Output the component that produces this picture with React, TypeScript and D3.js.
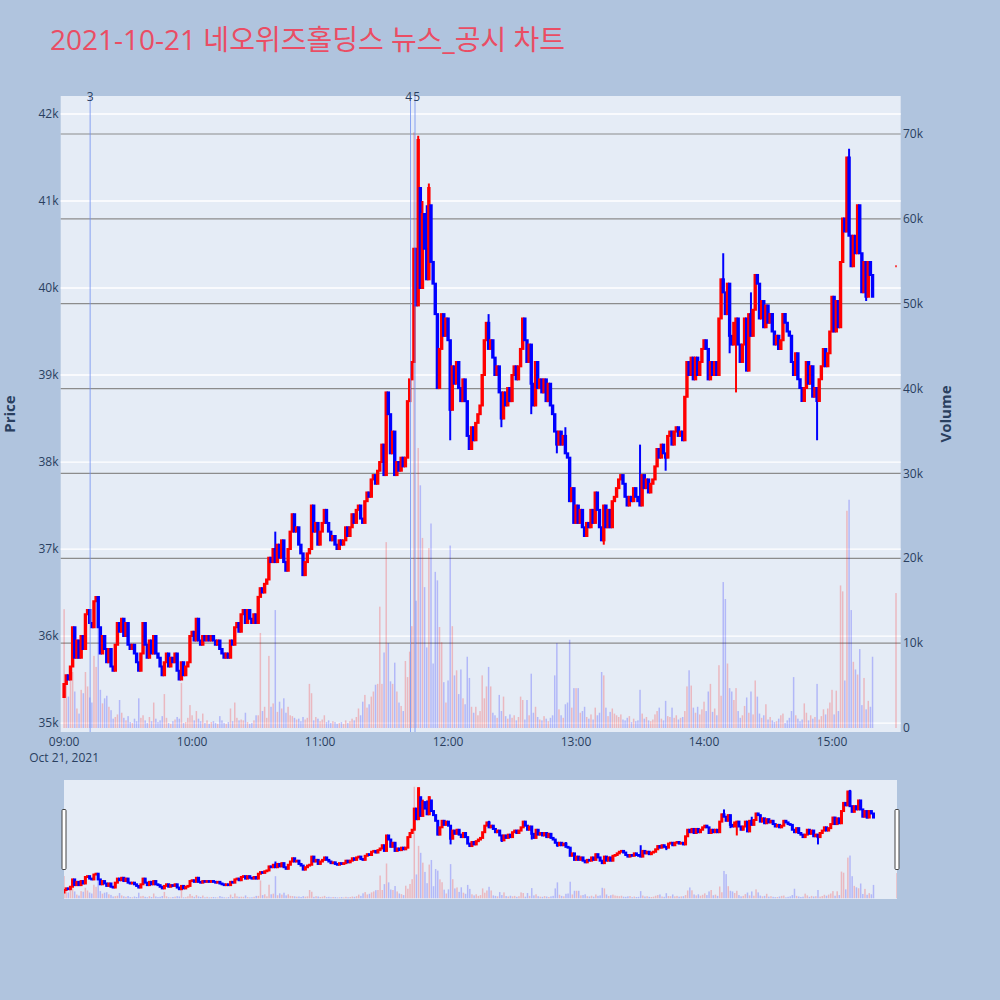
import { useMemo } from 'react';
import * as d3 from 'd3';

// 1-minute candles from 09:00, open = previous close unless overridden
const FIRST_OPEN = 35300;

const closes: number[] = [
  35450, 35550, 35500, 35650, 36100, 35750, 35950, 35750, 36000, 35850,
  36250, 36300, 36150, 36100, 36400, 36450, 36100, 35800, 36000, 35850,
  35700, 35850, 35650, 35600, 35900, 36150, 36050, 36200, 36000, 36150,
  35900, 35850, 35900, 35800, 35700, 35600, 35800, 36150, 35900, 35750,
  35950, 35800, 36000, 35800, 35750, 35650, 35550, 35700, 35800, 35650,
  35750, 35700, 35800, 35600, 35500, 35700, 35550, 35650, 35700, 36000,
  36050, 35950, 36200, 35950, 35900, 36000, 35950, 36000, 35950, 36000,
  35950, 35900, 35950, 35850, 35800, 35750, 35800, 35750, 35950, 35900,
  36100, 36150, 36050, 36250, 36300, 36150, 36300, 36200, 36150, 36250,
  36150, 36450, 36550, 36500, 36600, 36650, 36900, 36850, 37000, 36850,
  37050, 36900, 37100, 36850, 36750, 37000, 37200, 37400, 37200, 37250,
  37050, 36950, 36700, 36850, 36950, 37000, 37500, 37200, 37300, 37050,
  37200, 37300, 37450, 37300, 37200, 37100, 37150, 37050, 37000, 37100,
  37050, 37100, 37250, 37150, 37250, 37400, 37300, 37450, 37500, 37350,
  37300, 37550, 37650, 37600, 37800, 37850, 37750, 37900, 38000, 38200,
  37850, 38800, 38550, 38100, 38350, 37850, 38000, 37900, 38050, 37950,
  38050, 38700, 38950, 39150, 40450, 39800, 41700, 40000, 40850, 40450,
  40100, 41150, 40300, 40050, 39700, 38850, 39300, 39700, 39450, 39650,
  39400, 38600, 39100, 38900, 39150, 38850, 38700, 38950, 38700, 38300,
  38150, 38400, 38250, 38450, 38550, 38650, 39000, 39400, 39600, 39300,
  39400, 39200, 39000, 39100, 38800, 38500, 38800, 38650, 38850, 38700,
  39000, 39100, 38950, 39100, 39300, 39650, 39400, 39150, 39350, 38900,
  38650, 39150, 38850, 38950, 38800, 38950, 38700, 38900, 38650, 38550,
  38350, 38200, 38350, 38200, 38300, 38100, 38050, 37550, 37700, 37300,
  37500, 37300, 37450, 37250, 37150, 37300, 37250, 37450, 37300, 37650,
  37450, 37250, 37100, 37500, 37250, 37450, 37250, 37550, 37600, 37700,
  37800, 37850, 37750, 37600, 37500, 37600, 37550, 37700, 37600, 37550,
  37500, 37850, 37700, 37800, 37650, 37750, 37800, 37950, 38150, 38050,
  38200, 38100, 38050, 38300, 38350, 38200, 38350, 38400, 38300, 38350,
  38250, 38750, 39150, 39000, 39200, 38950, 39200, 39000, 39150, 39300,
  39400, 39300, 38950, 39150, 39000, 39150, 39000, 39650, 40100, 39950,
  39700, 40050, 39450, 39350, 39600, 39650, 39350, 39150, 39350, 39650,
  39050, 39700, 39450, 39750, 40150, 40050, 39650, 39850, 39550, 39800,
  39600, 39700, 39500, 39350, 39450, 39300, 39400, 39700, 39600, 39500,
  39450, 39150, 39000, 39250, 38950, 38850, 38700, 38850, 39150, 38900,
  39100, 38750, 38850, 38700, 38950, 39100, 39300, 39100, 39250, 39500,
  39900, 39500, 39850, 39550, 40300, 40800, 40650, 41500, 40600, 40250,
  40600, 40400, 40950, 40400, 39950, 40300, 39900, 40300, 40150, 39900,
];

const volumes: number[] = [
  14000, 5300, 3700, 6200, 6600, 4300, 2300, 1700, 4500, 4100,
  6600, 4900, 3600, 3000, 8500, 7200, 13000, 4500, 2900, 3500,
  3800, 2500, 2100, 1100, 1300, 1600, 3300, 1800, 1200, 900,
  1400, 700, 600, 1100, 800, 3500, 1200, 1500, 900, 600,
  1300, 800, 3000, 1100, 700, 900, 1400, 4000, 1200, 600,
  500, 800, 1000, 1300, 1100, 5300, 600, 700, 1200, 2700,
  1500, 900, 2000, 1100, 800, 1700, 600, 900, 500, 700,
  800, 600, 500, 1400, 900, 600, 500, 700, 2300, 800,
  3000, 1200, 900, 1000, 900, 1800, 700, 500, 600, 900,
  1500, 1500, 11200, 2000, 2500, 1200, 8500, 2500, 2900, 13900,
  1900, 3100, 2300, 3500, 1800, 2500, 1500, 1400, 1200, 1000,
  1100, 800, 1300, 1000, 1200, 5200, 4100, 900, 1300, 1100,
  800, 1000, 1500, 700, 900, 600, 800, 700, 500, 600,
  700, 500, 900, 600, 800, 1100, 900, 1300, 2300, 1500,
  3100, 3900, 2400, 2800, 3700, 4300, 5100, 5200, 14300, 5200,
  8900, 21900, 10000, 5500, 5200, 7700, 4300, 3000, 2600, 2000,
  7900, 6000, 9000, 12000, 70200, 15000, 33000, 28600, 22400, 16600,
  9500, 21200, 24100, 7600, 18400, 17400, 11900, 10100, 5400, 3000,
  5600, 21500, 12000, 6200, 6800, 4000, 6900, 3500, 2800, 8400,
  5900, 2500, 1800, 2500, 1500, 2000, 6200, 3500, 4900, 7200,
  4900, 1800, 1500, 1200, 3900, 2000, 3700, 1400, 1100, 1600,
  1200, 1500, 900, 1300, 3700, 3300, 1000, 3300, 1500, 6400,
  1800, 2500, 1300, 1000, 900, 1400, 1100, 800, 1200, 1500,
  6200, 10000, 2200, 1500, 1200, 2800, 3000, 10400, 2400, 4700,
  4700, 4700, 1800, 2000, 2500, 1300, 1100, 1600, 1000, 2400,
  1500, 1800, 6600, 6200, 2400, 1400, 1900, 2300, 1700, 1500,
  1300, 1600, 1000, 900, 1200, 1400, 700, 1100, 800, 900,
  4500, 1700, 1100, 1300, 900, 800, 1000, 1600, 2000, 2400,
  1100, 900, 3200, 1400, 1300, 2400, 1200, 1500, 1000, 1200,
  1300, 2000, 4900, 6800, 5000, 2400, 1800, 2500, 1600, 2200,
  3100, 2000, 4300, 5200, 1900, 2300, 1500, 7400, 3800, 17200,
  15200, 7600, 4700, 4300, 3300, 4700, 2000, 1200, 1500, 2600,
  3600, 1800, 4300, 1600, 5600, 3700, 1700, 1200, 1500, 2800,
  1000, 1300, 900, 700, 800, 1100, 1500, 1700, 600, 900,
  1200, 2000, 6000, 1500, 1100, 800, 1000, 2900, 1800, 900,
  1500, 1100, 1300, 5200, 1000, 1400, 2200, 1600, 2300, 3000,
  4500, 1600, 4400, 2000, 16800, 16100, 5600, 25600, 26900, 13900,
  7800, 6900, 6300, 9300, 2700, 5900, 2200, 3200, 2500, 8400,
];

// [minute index, open] where the open gaps away from the previous close
const openOverrides: [number, number][] = [[167, 41150], [172, 40950]];
// [minute index, high] and [minute index, low] for visible wicks
const highWicks: [number, number][] = [
  [99, 37200], [166, 41750], [168, 41000], [170, 40950], [171, 41200],
  [199, 39700], [235, 38400], [270, 38200], [309, 40400], [322, 39950], [368, 41600],
];
const lowWicks: [number, number][] = [
  [181, 38250], [205, 38400], [219, 38550], [231, 38100], [253, 37050],
  [282, 37900], [312, 39250], [315, 38800], [353, 38250], [376, 39850],
];

// closing auction at 15:30
const closeAuction = { minute: 390, price: 40250, volume: 15900 };

const newsLabels = ['3', '4', '5'];
const newsMinutes = [12.2, 162.4, 164.5];

const priceTicks = [35000, 36000, 37000, 38000, 39000, 40000, 41000, 42000];
const volumeTicks = [0, 10000, 20000, 30000, 40000, 50000, 60000, 70000];

const TITLE = '2021-10-21 네오위즈홀딩스 뉴스_공시 차트';
const FONT = "'Open Sans', 'Noto Sans CJK KR', verdana, arial, sans-serif";
const UP = '#ff0000';
const DOWN = '#0000ff';

interface Candle {
  t: Date;
  o: number;
  h: number;
  l: number;
  c: number;
  v: number;
}

const t0 = new Date(2021, 9, 21, 9, 0, 0);
const atMinute = (m: number) => new Date(t0.getTime() + m * 60000);

function buildCandles(): Candle[] {
  const opens = new Map(openOverrides);
  const highs = new Map(highWicks);
  const lows = new Map(lowWicks);
  const out: Candle[] = closes.map((c, i) => {
    const o = opens.get(i) ?? (i === 0 ? FIRST_OPEN : closes[i - 1]);
    return {
      t: atMinute(i),
      o,
      c,
      h: Math.max(o, c, highs.get(i) ?? 0),
      l: Math.min(o, c, lows.get(i) ?? Infinity),
      v: volumes[i],
    };
  });
  out.push({
    t: atMinute(closeAuction.minute),
    o: closeAuction.price,
    c: closeAuction.price,
    h: closeAuction.price,
    l: closeAuction.price,
    v: closeAuction.volume,
  });
  return out;
}

function Series({
  data,
  x,
  yP,
  yV,
  barW,
  bodyW,
}: {
  data: Candle[];
  x: d3.ScaleTime<number, number>;
  yP: d3.ScaleLinear<number, number>;
  yV: d3.ScaleLinear<number, number>;
  barW: number;
  bodyW: number;
}) {
  return (
    <g>
      {data.map((d, i) => (
        <rect
          key={'v' + i}
          x={x(d.t) - barW / 2}
          y={yV(d.v)}
          width={barW}
          height={Math.max(0, yV(0) - yV(d.v))}
          fill={d.c >= d.o ? UP : DOWN}
          fillOpacity={0.22}
        />
      ))}
      {data.map((d, i) => {
        const cx = x(d.t);
        const col = d.c >= d.o ? UP : DOWN;
        const top = yP(Math.max(d.o, d.c));
        const bot = yP(Math.min(d.o, d.c));
        const hw = bodyW / 2;
        return (
          <g key={'c' + i} stroke={col} strokeWidth={2} fill={col}>
            <line x1={cx} x2={cx} y1={yP(d.h)} y2={yP(d.l)} />
            <path d={`M${cx - hw},${top}H${cx + hw}V${bot}H${cx - hw}Z`} />
          </g>
        );
      })}
    </g>
  );
}

export default function App() {
  const candles = useMemo(buildCandles, []);

  const L = 60.7, R = 900.7, T = 96, B = 732;
  const x = d3.scaleTime().domain([atMinute(-1.6), atMinute(392.2)]).range([L, R]);
  const yPrice = d3.scaleLinear().domain([34897, 42207]).range([B, T]);
  const yVol = d3.scaleLinear().domain([-471, 74475]).range([B, T]);

  const SL = 64, SR = 897, ST = 780, SB = 899;
  const xs = d3.scaleTime().domain([atMinute(0), atMinute(390)]).range([SL, SR]);
  const ysPrice = yPrice.copy().range([SB, ST]);
  const ysVol = yVol.copy().range([SB, ST]);

  const hourTicks = x.ticks(d3.timeHour.every(1)!);
  const fmt = d3.timeFormat('%H:%M');
  const tickColor = '#2a3f5f';

  // nudge the two close news labels apart so "4" and "5" sit side by side
  const labelShift = [0, -1.8, 1.8];

  return (
    <svg
      width={1000}
      height={1000}
      style={{ position: 'absolute', left: 0, top: 0 }}
      fontFamily={FONT}
    >
      <defs>
        <clipPath id="plotClip">
          <rect x={L} y={T} width={R - L} height={B - T} />
        </clipPath>
        <clipPath id="sliderClip">
          <rect x={SL} y={ST} width={SR - SL} height={SB - ST} />
        </clipPath>
      </defs>
      <rect width={1000} height={1000} fill="#b0c4de" />

      <text x={50} y={50} fontSize={28} fill="#ea4d64">
        {TITLE}
      </text>

      {/* main plot */}
      <rect x={L} y={T} width={R - L} height={B - T} fill="#e5ecf6" />
      {priceTicks.map((p) => (
        <line key={'pg' + p} x1={L} x2={R} y1={yPrice(p)} y2={yPrice(p)} stroke="#ffffff" strokeWidth={1.3} />
      ))}
      {volumeTicks.slice(1).map((v) => (
        <line key={'vg' + v} x1={L} x2={R} y1={yVol(v)} y2={yVol(v)} stroke="#8c8c8c" strokeWidth={1.2} />
      ))}
      <g clipPath="url(#plotClip)">
        <Series data={candles} x={x} yP={yPrice} yV={yVol} barW={1.5} bodyW={1.4} />
        {newsMinutes.map((m, i) => (
          <line
            key={'n' + i}
            x1={x(atMinute(m))}
            x2={x(atMinute(m))}
            y1={T}
            y2={B}
            stroke="#6f8ff0"
            strokeOpacity={0.8}
            strokeWidth={1}
          />
        ))}
      </g>
      {newsMinutes.map((m, i) => (
        <text
          key={'nl' + i}
          x={x(atMinute(m)) + labelShift[i]}
          y={101}
          fontSize={12}
          fill={tickColor}
          textAnchor="middle"
        >
          {newsLabels[i]}
        </text>
      ))}

      {/* axes */}
      {priceTicks.map((p) => (
        <text key={'pt' + p} x={58.5} y={yPrice(p)} dy="0.35em" fontSize={12} fill={tickColor} textAnchor="end">
          {p / 1000 + 'k'}
        </text>
      ))}
      {volumeTicks.map((v) => (
        <text key={'vt' + v} x={903} y={yVol(v)} dy="0.35em" fontSize={12} fill={tickColor}>
          {v === 0 ? '0' : v / 1000 + 'k'}
        </text>
      ))}
      {hourTicks.map((t, i) => (
        <g key={'xt' + i}>
          <text x={x(t)} y={746} fontSize={12} fill={tickColor} textAnchor="middle">
            {fmt(t)}
          </text>
          {i === 0 && (
            <text x={x(t)} y={762} fontSize={12} fill={tickColor} textAnchor="middle">
              Oct 21, 2021
            </text>
          )}
        </g>
      ))}
      <text
        transform={`translate(15,${(T + B) / 2}) rotate(-90)`}
        textAnchor="middle"
        fontSize={15}
        fontWeight="bold"
        fill={tickColor}
      >
        Price
      </text>
      <text
        transform={`translate(951,${(T + B) / 2}) rotate(-90)`}
        textAnchor="middle"
        fontSize={15}
        fontWeight="bold"
        fill={tickColor}
      >
        Volume
      </text>

      {/* range slider */}
      <rect x={SL} y={ST} width={SR - SL} height={SB - ST} fill="#e5ecf6" />
      <g clipPath="url(#sliderClip)">
        <Series data={candles} x={xs} yP={ysPrice} yV={ysVol} barW={1.5} bodyW={1} />
      </g>
      {[SL - 2, SR - 2].map((hx) => (
        <rect
          key={'h' + hx}
          x={hx}
          y={(ST + SB) / 2 - 30}
          width={4}
          height={60}
          rx={1}
          fill="#ffffff"
          stroke="#444444"
          strokeWidth={1}
        />
      ))}
    </svg>
  );
}
